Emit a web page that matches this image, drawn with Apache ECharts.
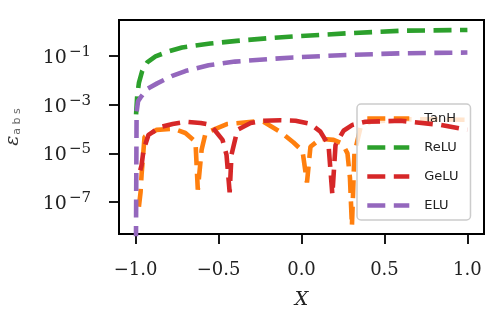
<!DOCTYPE html>
<html><head><meta charset="utf-8">
<script src="https://cdn.jsdelivr.net/npm/echarts@6/dist/echarts.min.js"></script>
<style>html,body{margin:0;padding:0;background:#fff}#c{width:491px;height:317px}</style>
</head><body><div id="c"></div>
<script>
// Tick values
const xTicks = [-1.0, -0.5, 0.0, 0.5, 1.0];
const yTickExps = [-7, -5, -3, -1];
const seriesNames = ['TanH', 'ReLU', 'GeLU', 'ELU'];
const colors = ['#ff7f0e', '#2ca02c', '#d62728', '#9467bd'];

// TanH absolute error
const tanhX = [-0.98, -0.970, -0.964, -0.946, -0.873, -0.771, -0.70, -0.639, -0.625, -0.602, -0.578, -0.446, -0.277, -0.229, -0.127, -0.048, 0.006, 0.033, 0.054, 0.114, 0.193, 0.247, 0.277, 0.292, 0.304, 0.319, 0.355, 0.416, 0.596, 0.837, 1.0];
const tanhY = [6.3e-8, 2.5e-7, 1.3e-6, 4.8e-5, 9.3e-5, 1.02e-4, 6.9e-5, 3.0e-5, 3.2e-7, 1.4e-5, 6.9e-5, 1.62e-4, 2.04e-4, 2.0e-4, 7.6e-5, 2.8e-5, 1.26e-5, 6.3e-7, 1.86e-5, 4.0e-5, 3.6e-5, 2.5e-5, 1.0e-5, 1.0e-6, 1.0e-8, 1.0e-5, 1.12e-4, 2.0e-4, 2.5e-4, 2.5e-4, 2.4e-4];

// ReLU absolute error
const reluX = [-0.997, -0.99, -0.98, -0.96, -0.93, -0.88, -0.80, -0.72, -0.55, -0.39, -0.2, -0.05, 0.27, 0.61, 1.0];
const reluY = [4.0e-4, 2.5e-3, 7.9e-3, 2.5e-2, 5.6e-2, 9.8e-2, 0.158, 0.229, 0.331, 0.427, 0.55, 0.646, 0.871, 1.12, 1.20];

// GeLU absolute error
const geluX = [-0.972, -0.964, -0.952, -0.922, -0.849, -0.777, -0.693, -0.608, -0.548, -0.476, -0.452, -0.433, -0.422, -0.386, -0.307, -0.229, -0.127, -0.036, 0.054, 0.114, 0.163, 0.186, 0.205, 0.253, 0.307, 0.386, 0.596, 0.837, 1.0];
const geluY = [2.0e-6, 3.2e-6, 1.4e-5, 5.8e-5, 1.23e-4, 1.62e-4, 2.0e-4, 1.78e-4, 1.48e-4, 3.6e-5, 8.7e-6, 2.5e-7, 8.7e-6, 9.3e-5, 1.78e-4, 2.2e-4, 2.3e-4, 2.2e-4, 1.62e-4, 7.8e-5, 2.2e-5, 2.0e-7, 2.2e-5, 8.5e-5, 1.48e-4, 2.0e-4, 2.2e-4, 1.48e-4, 9.3e-5];

// ELU absolute error
const eluX = [-1.0, -0.994, -0.985, -0.97, -0.93, -0.87, -0.783, -0.70, -0.56, -0.40, -0.2, -0.05, 0.27, 0.61, 1.0];
const eluY = [1e-12, 5.0e-4, 1.4e-3, 2.0e-3, 4.5e-3, 7.6e-3, 1.5e-2, 2.45e-2, 4.2e-2, 6.0e-2, 7.6e-2, 8.9e-2, 0.112, 0.132, 0.141];

const allX = [tanhX, reluX, geluX, eluX];
const allY = [tanhY, reluY, geluY, eluY];

const serif = 'DejaVu Serif';
const chart = echarts.init(document.getElementById('c'), null, {renderer: 'canvas'});
chart.setOption({
  animation: false,
  grid: {left: 119, right: 7, top: 20, bottom: 83, show: true, borderColor: '#000', borderWidth: 2,
    containLabel: false, outerBoundsMode: 'none'},
  xAxis: {
    type: 'value', min: -1.1, max: 1.1,
    axisLine: {show: true, onZero: false, lineStyle: {color: '#000', width: 2}},
    axisTick: {show: true, customValues: xTicks, length: 10, lineStyle: {color: '#000', width: 1.8}},
    axisLabel: {customValues: xTicks, margin: 27, fontFamily: serif, fontSize: 18, color: '#222',
      formatter: v => (v < 0 ? '\u2212' + Math.abs(v).toFixed(1) : v.toFixed(1))},
    splitLine: {show: false},
    name: 'X', nameLocation: 'middle', nameGap: 57,
    nameTextStyle: {fontFamily: serif, fontStyle: 'italic', fontSize: 19, color: '#222'}
  },
  yAxis: {
    type: 'value', min: -8.32, max: 0.49,
    axisLine: {show: true, onZero: false, lineStyle: {color: '#000', width: 2}},
    axisTick: {show: true, customValues: yTickExps, length: 10, lineStyle: {color: '#000', width: 1.8}},
    axisLabel: {customValues: yTickExps, margin: 28, color: '#222',
      formatter: v => '{b|10}{s|\u2212' + Math.abs(v) + '}',
      rich: {
        b: {fontFamily: serif, fontSize: 19, color: '#222', verticalAlign: 'bottom'},
        s: {fontFamily: serif, fontSize: 15, color: '#222', verticalAlign: 'top', padding: [0, 0, 8, 2]}
      }},
    splitLine: {show: false},
    name: '{e|\u03b5}{s|a b s}', nameLocation: 'middle', nameRotate: 90, nameGap: 96,
    nameTextStyle: {
      rich: {
        e: {fontFamily: serif, fontStyle: 'italic', fontSize: 19, color: '#333', verticalAlign: 'top'},
        s: {fontFamily: 'DejaVu Sans', fontSize: 11, color: '#666', verticalAlign: 'bottom', padding: [6, 0, 0, 1]}
      }
    }
  },
  legend: {
    data: seriesNames, orient: 'vertical', left: 357, top: 104,
    itemWidth: 42, itemHeight: 14, itemGap: 16, padding: [8, 12, 8, 8],
    itemStyle: {opacity: 0},
    lineStyle: {type: [18, 8.5], width: 4.6},
    textStyle: {fontFamily: 'DejaVu Sans', fontSize: 13, color: '#222', padding: [0, 0, 0, 10]},
    backgroundColor: 'rgba(255,255,255,0.8)', borderColor: '#cccccc', borderWidth: 1.5, borderRadius: 4
  },
  series: seriesNames.map((name, k) => ({
    name: name, type: 'line', showSymbol: false, symbol: 'none', clip: true,
    data: allX[k].map((x, i) => [x, Math.log10(allY[k][i])]),
    lineStyle: {color: colors[k], width: 4.6, type: [18, 8.5]},
    itemStyle: {color: colors[k]},
    z: 2 + k
  }))
});
</script>
</body></html>
